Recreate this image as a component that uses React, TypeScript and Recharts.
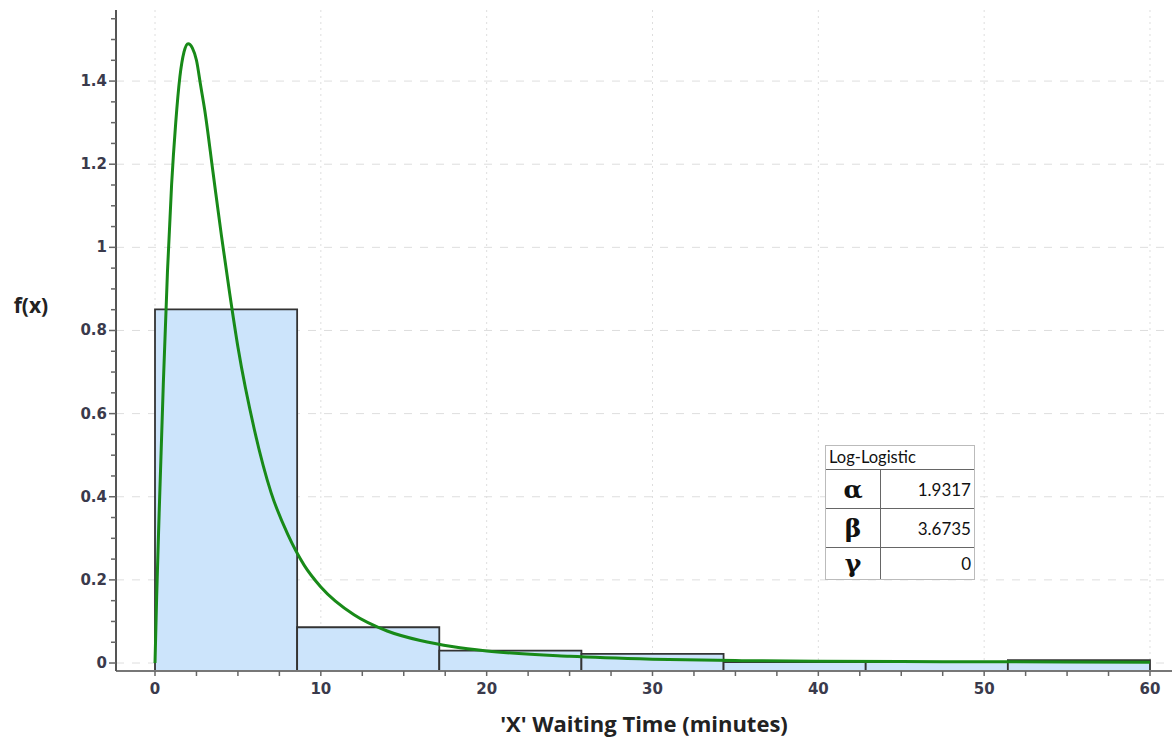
import React from 'react';
import { ComposedChart, Line, XAxis, YAxis, CartesianGrid, ReferenceArea, Label } from 'recharts';

// Histogram bins (relative frequency)
const binStarts = [0, 8.571, 17.143, 25.714, 34.286, 42.857, 51.429];
const binEnds = [8.571, 17.143, 25.714, 34.286, 42.857, 51.429, 60];
const binHeights = [0.851, 0.086, 0.03, 0.022, 0.002, 0.002, 0.007];

// Fitted Log-Logistic curve
const curveX = [0, 0.1, 0.25, 0.5, 0.75, 1, 1.25, 1.5, 1.75, 2, 2.25, 2.5, 2.75, 3, 3.5, 4, 4.5, 5, 6, 7, 8, 9, 10, 12, 14, 16, 18, 20, 25, 30, 35, 40, 45, 50, 55, 60];
const curveY = [0, 0.16, 0.36, 0.67, 0.94, 1.15, 1.3, 1.41, 1.47, 1.49, 1.48, 1.45, 1.39, 1.33, 1.18, 1.03, 0.89, 0.76, 0.56, 0.41, 0.31, 0.235, 0.183, 0.116, 0.077, 0.054, 0.039, 0.029, 0.016, 0.0092, 0.0059, 0.004, 0.0035, 0.003, 0.0025, 0.002];

// Axis ticks
const yTicks = [0, 0.05, 0.1, 0.15, 0.2, 0.25, 0.3, 0.35, 0.4, 0.45, 0.5, 0.55, 0.6, 0.65, 0.7, 0.75, 0.8, 0.85, 0.9, 0.95, 1, 1.05, 1.1, 1.15, 1.2, 1.25, 1.3, 1.35, 1.4, 1.45, 1.5, 1.55];
const yLabeled = [0, 0.2, 0.4, 0.6, 0.8, 1, 1.2, 1.4];
const xTicks = [0, 2.5, 5, 7.5, 10, 12.5, 15, 17.5, 20, 22.5, 25, 27.5, 30, 32.5, 35, 37.5, 40, 42.5, 45, 47.5, 50, 52.5, 55, 57.5, 60];
const xLabeled = [0, 10, 20, 30, 40, 50, 60];
const yDomain = [-0.0192, 1.571];
const xDomain = [-2.352, 61.327];

// Parameter table
const tableTitle = 'Log-Logistic';
const paramNames = ['α', 'β', 'γ'];
const paramValues = ['1.9317', '3.6735', '0'];

const curveData = curveX.map((x, i) => ({ x, y: curveY[i] }));

const TICK_COLOR = '#3a3a4c';
const TICK_FONT = 'DejaVu Sans, sans-serif';

const isIn = (arr: number[], v: number) => arr.some((t) => Math.abs(t - v) < 1e-6);

const YTick = (props: any) => {
  const { x, y, payload } = props;
  const v = payload.value;
  const major = isIn(yLabeled, v);
  return (
    <g>
      <line x1={x - (major ? 7 : 5)} x2={x} y1={y} y2={y} stroke="#666" strokeWidth={1.5} />
      {major && (
        <text x={x - 9} y={y} textAnchor="end" dominantBaseline="central" fontFamily={TICK_FONT} fontSize={15} fontWeight="bold" fill={TICK_COLOR}>
          {String(v)}
        </text>
      )}
    </g>
  );
};

const XTick = (props: any) => {
  const { x, y, payload } = props;
  const v = payload.value;
  const major = isIn(xLabeled, v);
  return (
    <g>
      <line x1={x} x2={x} y1={y} y2={y + 5} stroke="#666" strokeWidth={1.5} />
      {major && (
        <text x={x} y={y + 18} textAnchor="middle" dominantBaseline="central" fontFamily={TICK_FONT} fontSize={15} fontWeight="bold" fill={TICK_COLOR}>
          {String(v)}
        </text>
      )}
    </g>
  );
};

const rowStyle: React.CSSProperties = { display: 'flex', borderTop: '1px solid #666' };

export default function App() {
  return (
    <div style={{ position: 'absolute', left: 0, top: 0, width: 1172, height: 740, background: '#fff' }}>
      <ComposedChart width={1172} height={740} data={curveData} margin={{ top: 10, right: 0, bottom: 0, left: 0 }}>
        <CartesianGrid horizontal={true} vertical={false} horizontalValues={yLabeled} stroke="#dedede" strokeDasharray="8 8" />
        <CartesianGrid horizontal={false} vertical={true} verticalValues={xLabeled} stroke="#dedede" strokeDasharray="2 4" />
        <XAxis
          type="number"
          dataKey="x"
          domain={xDomain}
          ticks={xTicks}
          interval={0}
          allowDataOverflow
          height={69}
          tickSize={0}
          tickMargin={0}
          tickLine={false}
          tick={<XTick />}
          axisLine={{ stroke: '#777', strokeWidth: 2 }}
        >
          <Label
            value="'X' Waiting Time (minutes)"
            position="insideBottom"
            offset={8}
            style={{ fontFamily: 'Open Sans, sans-serif', fontSize: 22, fontWeight: 'bold', fill: '#222' }}
          />
        </XAxis>
        <YAxis
          type="number"
          domain={yDomain}
          ticks={yTicks}
          interval={0}
          allowDataOverflow
          width={116}
          tickSize={0}
          tickMargin={0}
          tickLine={false}
          tick={<YTick />}
          axisLine={{ stroke: '#555', strokeWidth: 2 }}
        >
          <Label
            content={() => (
              <text x={31} y={305} textAnchor="middle" dominantBaseline="central" fontFamily="Open Sans, sans-serif" fontSize={21} fontWeight="bold" fill="#222">
                f(x)
              </text>
            )}
          />
        </YAxis>
        {binHeights.map((h, i) => (
          <ReferenceArea
            key={i}
            x1={binStarts[i]}
            x2={binEnds[i]}
            y1={yDomain[0]}
            y2={h}
            fill="#cce4fb"
            fillOpacity={1}
            stroke="#333"
            strokeWidth={1.8}
            ifOverflow="visible"
          />
        ))}
        <Line
          type="monotone"
          dataKey="y"
          stroke="#188a18"
          strokeWidth={3}
          dot={false}
          activeDot={false}
          isAnimationActive={false}
        />
      </ComposedChart>
      <div
        style={{
          position: 'absolute',
          left: 825,
          top: 445,
          width: 150,
          border: '1px solid #bbb',
          background: '#fff',
          fontFamily: 'Lato, sans-serif',
          color: '#111',
          boxSizing: 'border-box',
        }}
      >
        <div style={{ height: 23, lineHeight: '23px', fontSize: 16.5, paddingLeft: 3 }}>{tableTitle}</div>
        {paramNames.map((n, i) => (
          <div key={n} style={{ ...rowStyle, height: i === 2 ? 31 : 38 }}>
            <div
              style={{
                width: 54,
                borderRight: '1px solid #666',
                textAlign: 'center',
                fontFamily: 'DejaVu Serif, serif',
                fontWeight: 'bold',
                fontSize: 25,
                display: 'flex',
                alignItems: 'center',
                justifyContent: 'center',
              }}
            >
              {n}
            </div>
            <div style={{ flex: 1, display: 'flex', alignItems: 'center', justifyContent: 'flex-end', paddingRight: 3, fontSize: 17 }}>
              {paramValues[i]}
            </div>
          </div>
        ))}
      </div>
    </div>
  );
}
